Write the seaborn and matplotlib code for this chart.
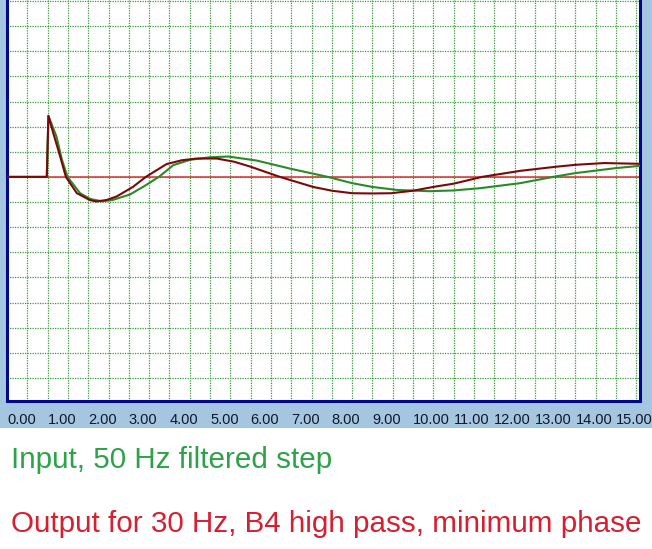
import seaborn as sns
import matplotlib.pyplot as plt
from matplotlib.patches import Rectangle

# values (time units on x, grid = 0.1 on y)
t_input = [0, 0.98, 1.02, 1.22, 1.35, 1.49, 1.80, 2.05, 2.33, 2.60, 3.03, 3.40,
           3.74, 4.10, 4.51, 5.0, 5.45, 6.15, 6.97, 7.90, 8.50, 9.0, 9.6,
           10.4, 11.0, 11.65, 12.64, 13.45, 14.0, 15.0, 15.59]
y_input = [0, 0, 0.243, 0.16, 0.07, 0.0, -0.065, -0.088, -0.097, -0.092, -0.07,
           -0.035, 0.0, 0.047, 0.068, 0.078, 0.081, 0.065, 0.033, 0.0, -0.025,
           -0.04, -0.052, -0.057, -0.054, -0.045, -0.025, 0.0, 0.015, 0.035, 0.044]

t_output = [0, 0.98, 1.02, 1.14, 1.31, 1.45, 1.72, 2.04, 2.20, 2.45, 2.70, 3.10,
            3.42, 3.93, 4.30, 4.67, 5.17, 5.60, 5.99, 6.72, 7.54, 8.0, 8.5, 9.0,
            9.47, 10.0, 10.5, 11.0, 11.7, 12.64, 13.5, 14.0, 14.7, 15.59]
y_output = [0, 0, 0.243, 0.174, 0.081, 0.0, -0.065, -0.092, -0.098, -0.092, -0.078,
            -0.04, 0.0, 0.051, 0.066, 0.073, 0.073, 0.06, 0.041, 0.0, -0.04, -0.055,
            -0.065, -0.066, -0.065, -0.055, -0.04, -0.027, 0.0, 0.024, 0.04, 0.048,
            0.055, 0.052]

tick_vals = list(range(16))
tick_labels = ["%.2f" % v for v in tick_vals]

sns.set_style("white")
plt.rcParams['font.family'] = ['Liberation Sans', 'DejaVu Sans']

fig = plt.figure(figsize=(6.52, 5.49), dpi=100)
fig.patch.set_facecolor('#a4c6e0')
# white part under the chart
fig.patches.append(Rectangle((0, 0), 1, 121 / 549, transform=fig.transFigure,
                             facecolor='white', edgecolor='none', zorder=0))

ax = fig.add_axes([7 / 652, 1 - 401 / 549, 633 / 652, 401 / 549])
ax.set_facecolor('white')
ax.set_xlim(0, 15.59)
ax.set_ylim(-0.892, 0.704)

# grid
ax.set_xticks(tick_vals)
ax.set_xticks([v + 0.5 for v in tick_vals], minor=True)
ax.set_yticks([i / 10 for i in range(-8, 8)])
ax.grid(True, which='both', color='#3d9a3d', linestyle=(0, (1, 1)), linewidth=0.9)
ax.set_axisbelow(True)
ax.tick_params(axis='both', which='both', length=0)
ax.set_yticklabels([])
ax.set_xticklabels(tick_labels, ha='left', fontsize=10.5, color='#101828')
ax.tick_params(axis='x', pad=9)

ax.axhline(0, color='#d03535', linewidth=1.1, zorder=2)
sns.lineplot(x=t_input, y=y_input, color='#2a8a2a', linewidth=1.5, ax=ax,
             sort=False, zorder=3)
sns.lineplot(x=t_output, y=y_output, color='#7a0a0a', linewidth=1.5, ax=ax,
             sort=False, zorder=4)

for side in ['left', 'right', 'bottom']:
    ax.spines[side].set_visible(True)
    ax.spines[side].set_color('#00088c')
    ax.spines[side].set_linewidth(2.2)
ax.spines['top'].set_visible(False)
ax.set_xlabel('')
ax.set_ylabel('')

fig.text(11 / 652, 1 - 468 / 549, 'Input, 50 Hz filtered step', color='#2ca348',
         fontsize=21.3, ha='left', va='baseline')
fig.text(11 / 652, 1 - 532 / 549, 'Output for 30 Hz, B4 high pass, minimum phase',
         color='#d42030', fontsize=21.3, ha='left', va='baseline')

fig.savefig('out.png', dpi=100, facecolor=fig.get_facecolor())
